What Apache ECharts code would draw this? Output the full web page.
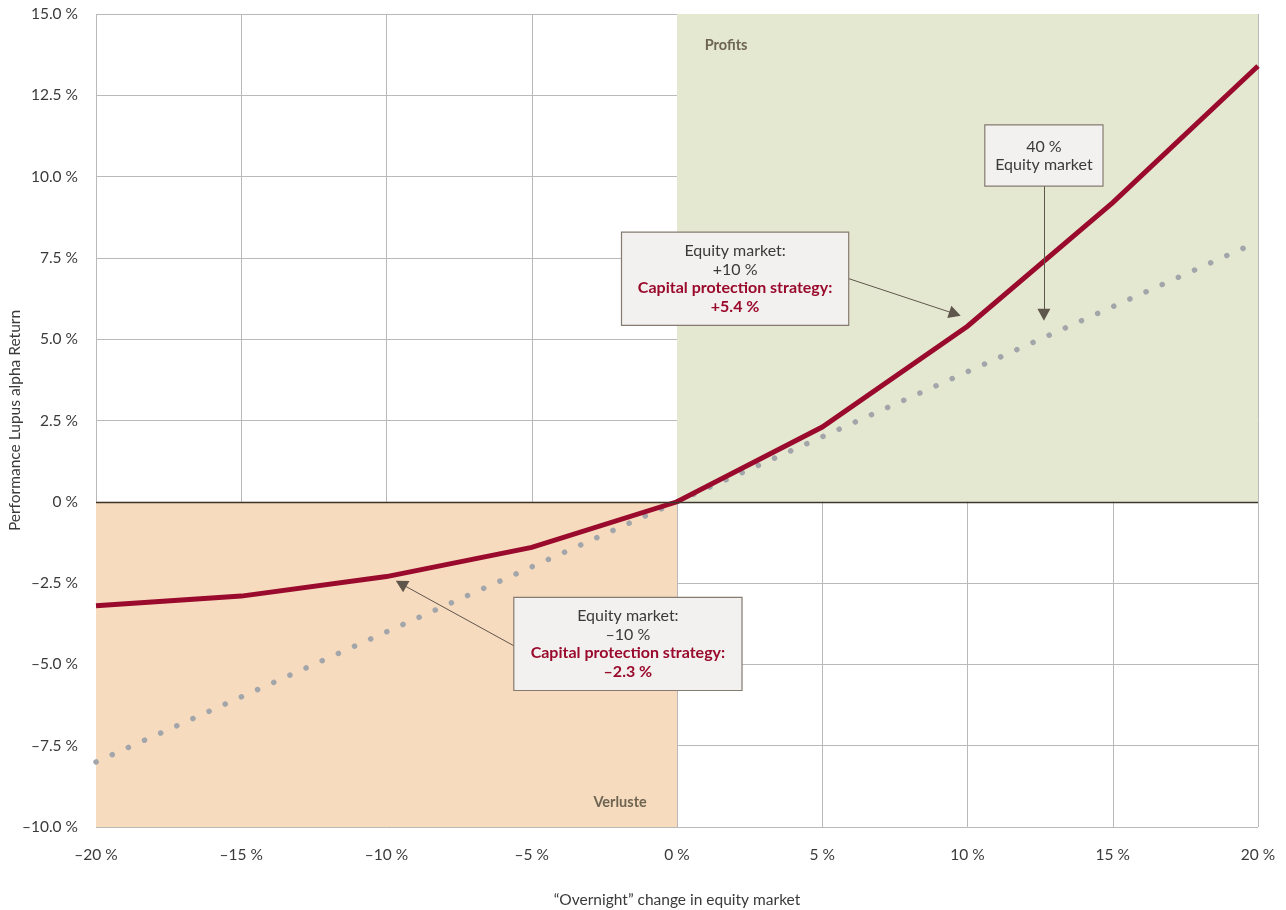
<!DOCTYPE html>
<html>
<head>
<meta charset="utf-8">
<script src="https://cdn.jsdelivr.net/npm/echarts@6/dist/echarts.min.js"></script>
<style>
  html, body { margin: 0; padding: 0; background: #ffffff; }
  #chart { width: 1286px; height: 910px; }
</style>
</head>
<body>
<div id="chart"></div>
<script>
// Overnight change in the equity market (x) against portfolio return (y)
const marketChange = [-20, -15, -10, -5, 0, 5, 10, 15, 20];
const protectionStrategy = [-3.2, -2.9, -2.3, -1.4, 0, 2.3, 5.4, 9.2, 13.4];
const equity40 = [-8, -6, -4, -2, 0, 2, 4, 6, 8];

const xTickLabels = ['–20 %', '–15 %', '–10 %', '–5 %', '0 %', '5 %', '10 %', '15 %', '20 %'];
const yTickLabels = ['–10.0 %', '–7.5 %', '–5.0 %', '–2.5 %', '0 %', '2.5 %', '5.0 %', '7.5 %', '10.0 %', '12.5 %', '15.0 %'];

const X_MIN = -20, X_MAX = 20, X_STEP = 5;
const Y_MIN = -10, Y_MAX = 15, Y_STEP = 2.5;

const FONT = 'Lato';
const RED = '#9a0a2c';
const TEXT = '#3a3a3a';
const ARROW = '#5f564b';

function fmtSigned(v) {
  const s = Math.abs(v).toFixed(1);
  return (v < 0 ? '–' : '+') + s + ' %';
}
function fmtPct(v) {
  return (v < 0 ? '–' : '+') + Math.abs(v) + ' %';
}

const iUp = marketChange.indexOf(10);
const iDown = marketChange.indexOf(-10);

const boxStyle = {
  show: true,
  position: 'inside',
  align: 'center',
  verticalAlign: 'middle',
  backgroundColor: '#f2f1ef',
  borderColor: '#857b70',
  borderWidth: 1.2,
  fontFamily: FONT,
  rich: {
    a: { fontFamily: FONT, fontSize: 16, color: TEXT, lineHeight: 18.5, align: 'center' },
    b: { fontFamily: FONT, fontSize: 16, color: RED, fontWeight: 'bold', lineHeight: 18.5, align: 'center' }
  }
};

const chart = echarts.init(document.getElementById('chart'), null, { renderer: 'canvas' });

chart.setOption({
  animation: false,
  backgroundColor: '#ffffff',
  textStyle: { fontFamily: FONT },
  grid: { left: 96, right: 28, top: 14, bottom: 83, containLabel: false, outerBoundsMode: 'none' },
  xAxis: {
    type: 'value',
    min: X_MIN, max: X_MAX, interval: X_STEP,
    z: 1,
    name: '“Overnight” change in equity market',
    nameLocation: 'middle',
    nameGap: 65,
    nameMoveOverlap: false,
    nameTextStyle: { fontFamily: FONT, fontSize: 15.5, color: TEXT },
    axisLine: { show: false },
    axisTick: { show: false },
    axisLabel: {
      margin: 20, fontFamily: FONT, fontSize: 15.5, color: TEXT,
      formatter: v => xTickLabels[Math.round((v - X_MIN) / X_STEP)]
    },
    splitLine: { show: true, lineStyle: { color: '#b9b9b9', width: 1 } }
  },
  yAxis: {
    type: 'value',
    min: Y_MIN, max: Y_MAX, interval: Y_STEP,
    z: 1,
    name: 'Performance Lupus alpha Return',
    nameLocation: 'middle',
    nameGap: 73,
    nameMoveOverlap: false,
    nameTextStyle: { fontFamily: FONT, fontSize: 15.5, color: TEXT },
    axisLine: { show: false },
    axisTick: { show: false },
    axisLabel: {
      margin: 18, fontFamily: FONT, fontSize: 15.5, color: TEXT,
      formatter: v => yTickLabels[Math.round((v - Y_MIN) / Y_STEP)]
    },
    splitLine: { show: true, lineStyle: { color: '#b9b9b9', width: 1 } }
  },
  series: [
    {
      // shaded profit / loss quadrants
      type: 'line',
      z: 0,
      data: [],
      markArea: {
        silent: true,
        data: [
          [{ coord: [0, 0], itemStyle: { color: '#e5e8d1' } }, { coord: [X_MAX, Y_MAX] }],
          [{ coord: [X_MIN, Y_MIN], itemStyle: { color: '#f6dbbf' } }, { coord: [0, 0] }]
        ]
      }
    },
    {
      // 40 % equity market reference line
      type: 'line',
      z: 2,
      data: marketChange.map((x, i) => [x, equity40[i]]),
      showSymbol: false,
      symbol: 'none',
      lineStyle: { color: '#a2a6aa', width: 5.5, type: [0.1, 17.6], cap: 'round' },
      markLine: {
        silent: true,
        symbol: 'none',
        label: { show: false },
        lineStyle: { color: '#3e362b', width: 1.3, type: 'solid' },
        data: [{ yAxis: 0 }]
      }
    },
    {
      // capital protection strategy
      type: 'line',
      z: 3,
      data: marketChange.map((x, i) => [x, protectionStrategy[i]]),
      showSymbol: false,
      symbol: 'none',
      lineStyle: { color: RED, width: 5, cap: 'butt', join: 'miter' },
      markLine: {
        silent: true,
        symbol: ['none', 'triangle'],
        symbolSize: [13, 12],
        label: { show: false },
        lineStyle: { color: ARROW, width: 1, type: 'solid' },
        itemStyle: { color: ARROW },
        data: [
          [{ coord: [5.92, 6.86] }, { coord: [9.57, 5.78] }],
          [{ coord: [-5.61, -4.43] }, { coord: [-9.5, -2.52] }],
          [{ coord: [12.63, 9.72] }, { coord: [12.63, 5.75] }]
        ]
      },
      markPoint: {
        silent: true,
        symbol: 'rect',
        symbolSize: 0,
        data: [
          {
            coord: [2.0, 6.86],
            label: Object.assign({}, boxStyle, {
              width: 226, padding: [9, 0, 9, 0],
              formatter: '{a|Equity market:}\n{a|' + fmtPct(marketChange[iUp]) + '}\n{b|Capital protection strategy:}\n{b|' + fmtSigned(protectionStrategy[iUp]) + '}'
            })
          },
          {
            coord: [-1.69, -4.37],
            label: Object.assign({}, boxStyle, {
              width: 227, padding: [9, 0, 9, 0],
              formatter: '{a|Equity market:}\n{a|' + fmtPct(marketChange[iDown]) + '}\n{b|Capital protection strategy:}\n{b|' + fmtSigned(protectionStrategy[iDown]) + '}'
            })
          },
          {
            coord: [12.63, 10.65],
            label: Object.assign({}, boxStyle, {
              width: 117, padding: [12, 0, 11, 0],
              formatter: '{a|40 %}\n{a|Equity market}'
            })
          },
          {
            coord: [1.69, 14.03],
            label: { show: true, position: 'inside', formatter: 'Profits', fontFamily: FONT, fontSize: 14.5, fontWeight: 'bold', color: '#6d6452' }
          },
          {
            coord: [-1.96, -9.23],
            label: { show: true, position: 'inside', formatter: 'Verluste', fontFamily: FONT, fontSize: 14.5, fontWeight: 'bold', color: '#6d6452' }
          }
        ]
      }
    }
  ]
});
</script>
</body>
</html>
